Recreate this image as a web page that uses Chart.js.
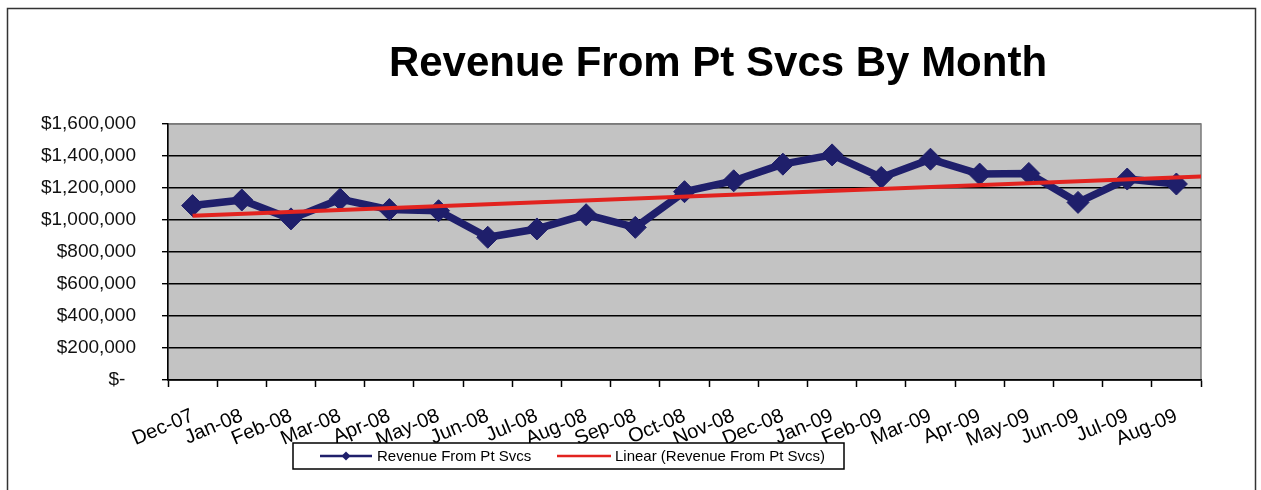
<!DOCTYPE html>
<html>
<head>
<meta charset="utf-8">
<title>Revenue From Pt Svcs By Month</title>
<script src="https://cdn.jsdelivr.net/npm/chart.js@4"></script>
<style>
  body { margin: 0; background: #fff; }
  #wrap { width: 1261px; height: 490px; }
</style>
</head>
<body>
<div id="wrap"><canvas id="myChart" width="1261" height="490"></canvas></div>
<script>
'use strict';

// months on the x axis (Sep-09 sits just past the right edge, like the original)
const months = ['Dec-07','Jan-08','Feb-08','Mar-08','Apr-08','May-08','Jun-08','Jul-08','Aug-08','Sep-08','Oct-08',
  'Nov-08','Dec-08','Jan-09','Feb-09','Mar-09','Apr-09','May-09','Jun-09','Jul-09','Aug-09','Sep-09'];
const lastShown = 'Aug-09';

// revenue
const revenue = [1090000,1125000,1007000,1130000,1065000,1058000,892000,944000,1033000,954000,1177000,
  1245000,1349000,1407000,1266000,1380000,1287000,1291000,1110000,1256000,1225000,1140000];

// linear trend end points
const trendStart = 1027000;
const trendEnd = 1278000;

const yTicks = [0,200000,400000,600000,800000,1000000,1200000,1400000,1600000];

const chartTitle = 'Revenue From Pt Svcs By Month';
const seriesName = 'Revenue From Pt Svcs';
const trendName = 'Linear (Revenue From Pt Svcs)';

const navy = '#1f1f6b';
const red = '#e2231f';
const font = "'Liberation Sans', Arial, sans-serif";

const frame = {
  id: 'frame',
  beforeDraw(chart) {
    const ctx = chart.ctx;
    const a = chart.chartArea;
    ctx.save();
    ctx.fillStyle = '#fff';
    ctx.fillRect(0, 0, chart.width, chart.height);
    ctx.fillStyle = '#c3c3c3';
    ctx.fillRect(a.left, a.top, a.right - a.left, a.bottom - a.top);
    ctx.strokeStyle = '#7a7a7a';
    ctx.lineWidth = 1.5;
    ctx.strokeRect(a.left, a.top, a.right - a.left, a.bottom - a.top);
    ctx.restore();
  },
  afterDraw(chart) {
    const ctx = chart.ctx;
    ctx.save();
    // outer border
    ctx.strokeStyle = '#333';
    ctx.lineWidth = 1.5;
    ctx.strokeRect(7.5, 8.5, 1248, 500);

    // title
    ctx.fillStyle = '#000';
    ctx.font = 'bold 42px ' + font;
    ctx.textAlign = 'center';
    ctx.textBaseline = 'alphabetic';
    ctx.fillText(chartTitle, 718, 76);

    // legend
    ctx.fillStyle = '#fff';
    ctx.fillRect(293, 443, 551, 26);
    ctx.strokeStyle = '#000';
    ctx.lineWidth = 1.5;
    ctx.strokeRect(293, 443, 551, 26);

    ctx.lineWidth = 2.5;
    ctx.strokeStyle = navy;
    ctx.beginPath();
    ctx.moveTo(320, 456);
    ctx.lineTo(372, 456);
    ctx.stroke();
    ctx.fillStyle = navy;
    ctx.beginPath();
    ctx.moveTo(346, 451.5);
    ctx.lineTo(350.5, 456);
    ctx.lineTo(346, 460.5);
    ctx.lineTo(341.5, 456);
    ctx.closePath();
    ctx.fill();

    ctx.strokeStyle = red;
    ctx.lineWidth = 2.5;
    ctx.beginPath();
    ctx.moveTo(557, 456);
    ctx.lineTo(611, 456);
    ctx.stroke();

    ctx.fillStyle = '#000';
    ctx.font = '15px ' + font;
    ctx.textAlign = 'left';
    ctx.textBaseline = 'middle';
    ctx.fillText(seriesName, 377, 457);
    ctx.fillText(trendName, 615, 457);
    ctx.restore();
  }
};

const ctx = document.getElementById('myChart').getContext('2d');
const myChart = new Chart(ctx, {
  type: 'line',
  data: {
    labels: months,
    datasets: [{
      label: seriesName,
      data: revenue,
      borderColor: navy,
      backgroundColor: navy,
      borderWidth: 7.5,
      borderJoinStyle: 'round',
      tension: 0,
      pointStyle: 'rectRot',
      pointRadius: 11,
      pointBackgroundColor: navy,
      pointBorderColor: navy,
      pointBorderWidth: 1,
      clip: {left: false, top: false, right: 0, bottom: false},
      order: 1
    },
    {
      label: trendName,
      data: [{x: months[0], y: trendStart}, {x: months[months.length - 1], y: trendEnd}],
      borderColor: red,
      backgroundColor: red,
      borderWidth: 4,
      pointRadius: 0,
      clip: {left: false, top: false, right: 0, bottom: false},
      order: 0
    }]
  },
  options: {
    responsive: false,
    animation: false,
    events: [],
    layout: {
      padding: {left: 10, right: 60, top: 124, bottom: 0}
    },
    plugins: {
      legend: {display: false},
      title: {display: false},
      tooltip: {enabled: false}
    },
    scales: {
      x: {
        type: 'category',
        max: lastShown,
        offset: true,
        afterFit(scale) { scale.height = 110; },
        grid: {
          offset: true,
          drawOnChartArea: false,
          drawTicks: true,
          tickLength: 7,
          tickColor: '#000',
          tickWidth: 1.5
        },
        border: {color: '#000', width: 1.5},
        ticks: {
          autoSkip: false,
          minRotation: 23,
          maxRotation: 23,
          padding: 17,
          color: '#000',
          font: {family: font, size: 20}
        }
      },
      y: {
        min: 0,
        max: 1600000,
        afterFit(scale) { scale.width = 158; },
        afterBuildTicks(scale) {
          scale.ticks = yTicks.map(v => ({value: v}));
        },
        grid: {
          color: c => c.tick && c.tick.value === 1600000 ? '#7a7a7a' : '#000',
          lineWidth: 1.4,
          drawTicks: true,
          tickLength: 6,
          tickColor: '#000'
        },
        border: {color: '#000', width: 1.5},
        ticks: {
          padding: 26,
          color: '#111',
          font: {family: font, size: 19},
          callback: v => v === 0 ? '$-  ' : '$' + v.toLocaleString('en-US')
        }
      }
    }
  },
  plugins: [frame]
});
</script>
</body>
</html>
